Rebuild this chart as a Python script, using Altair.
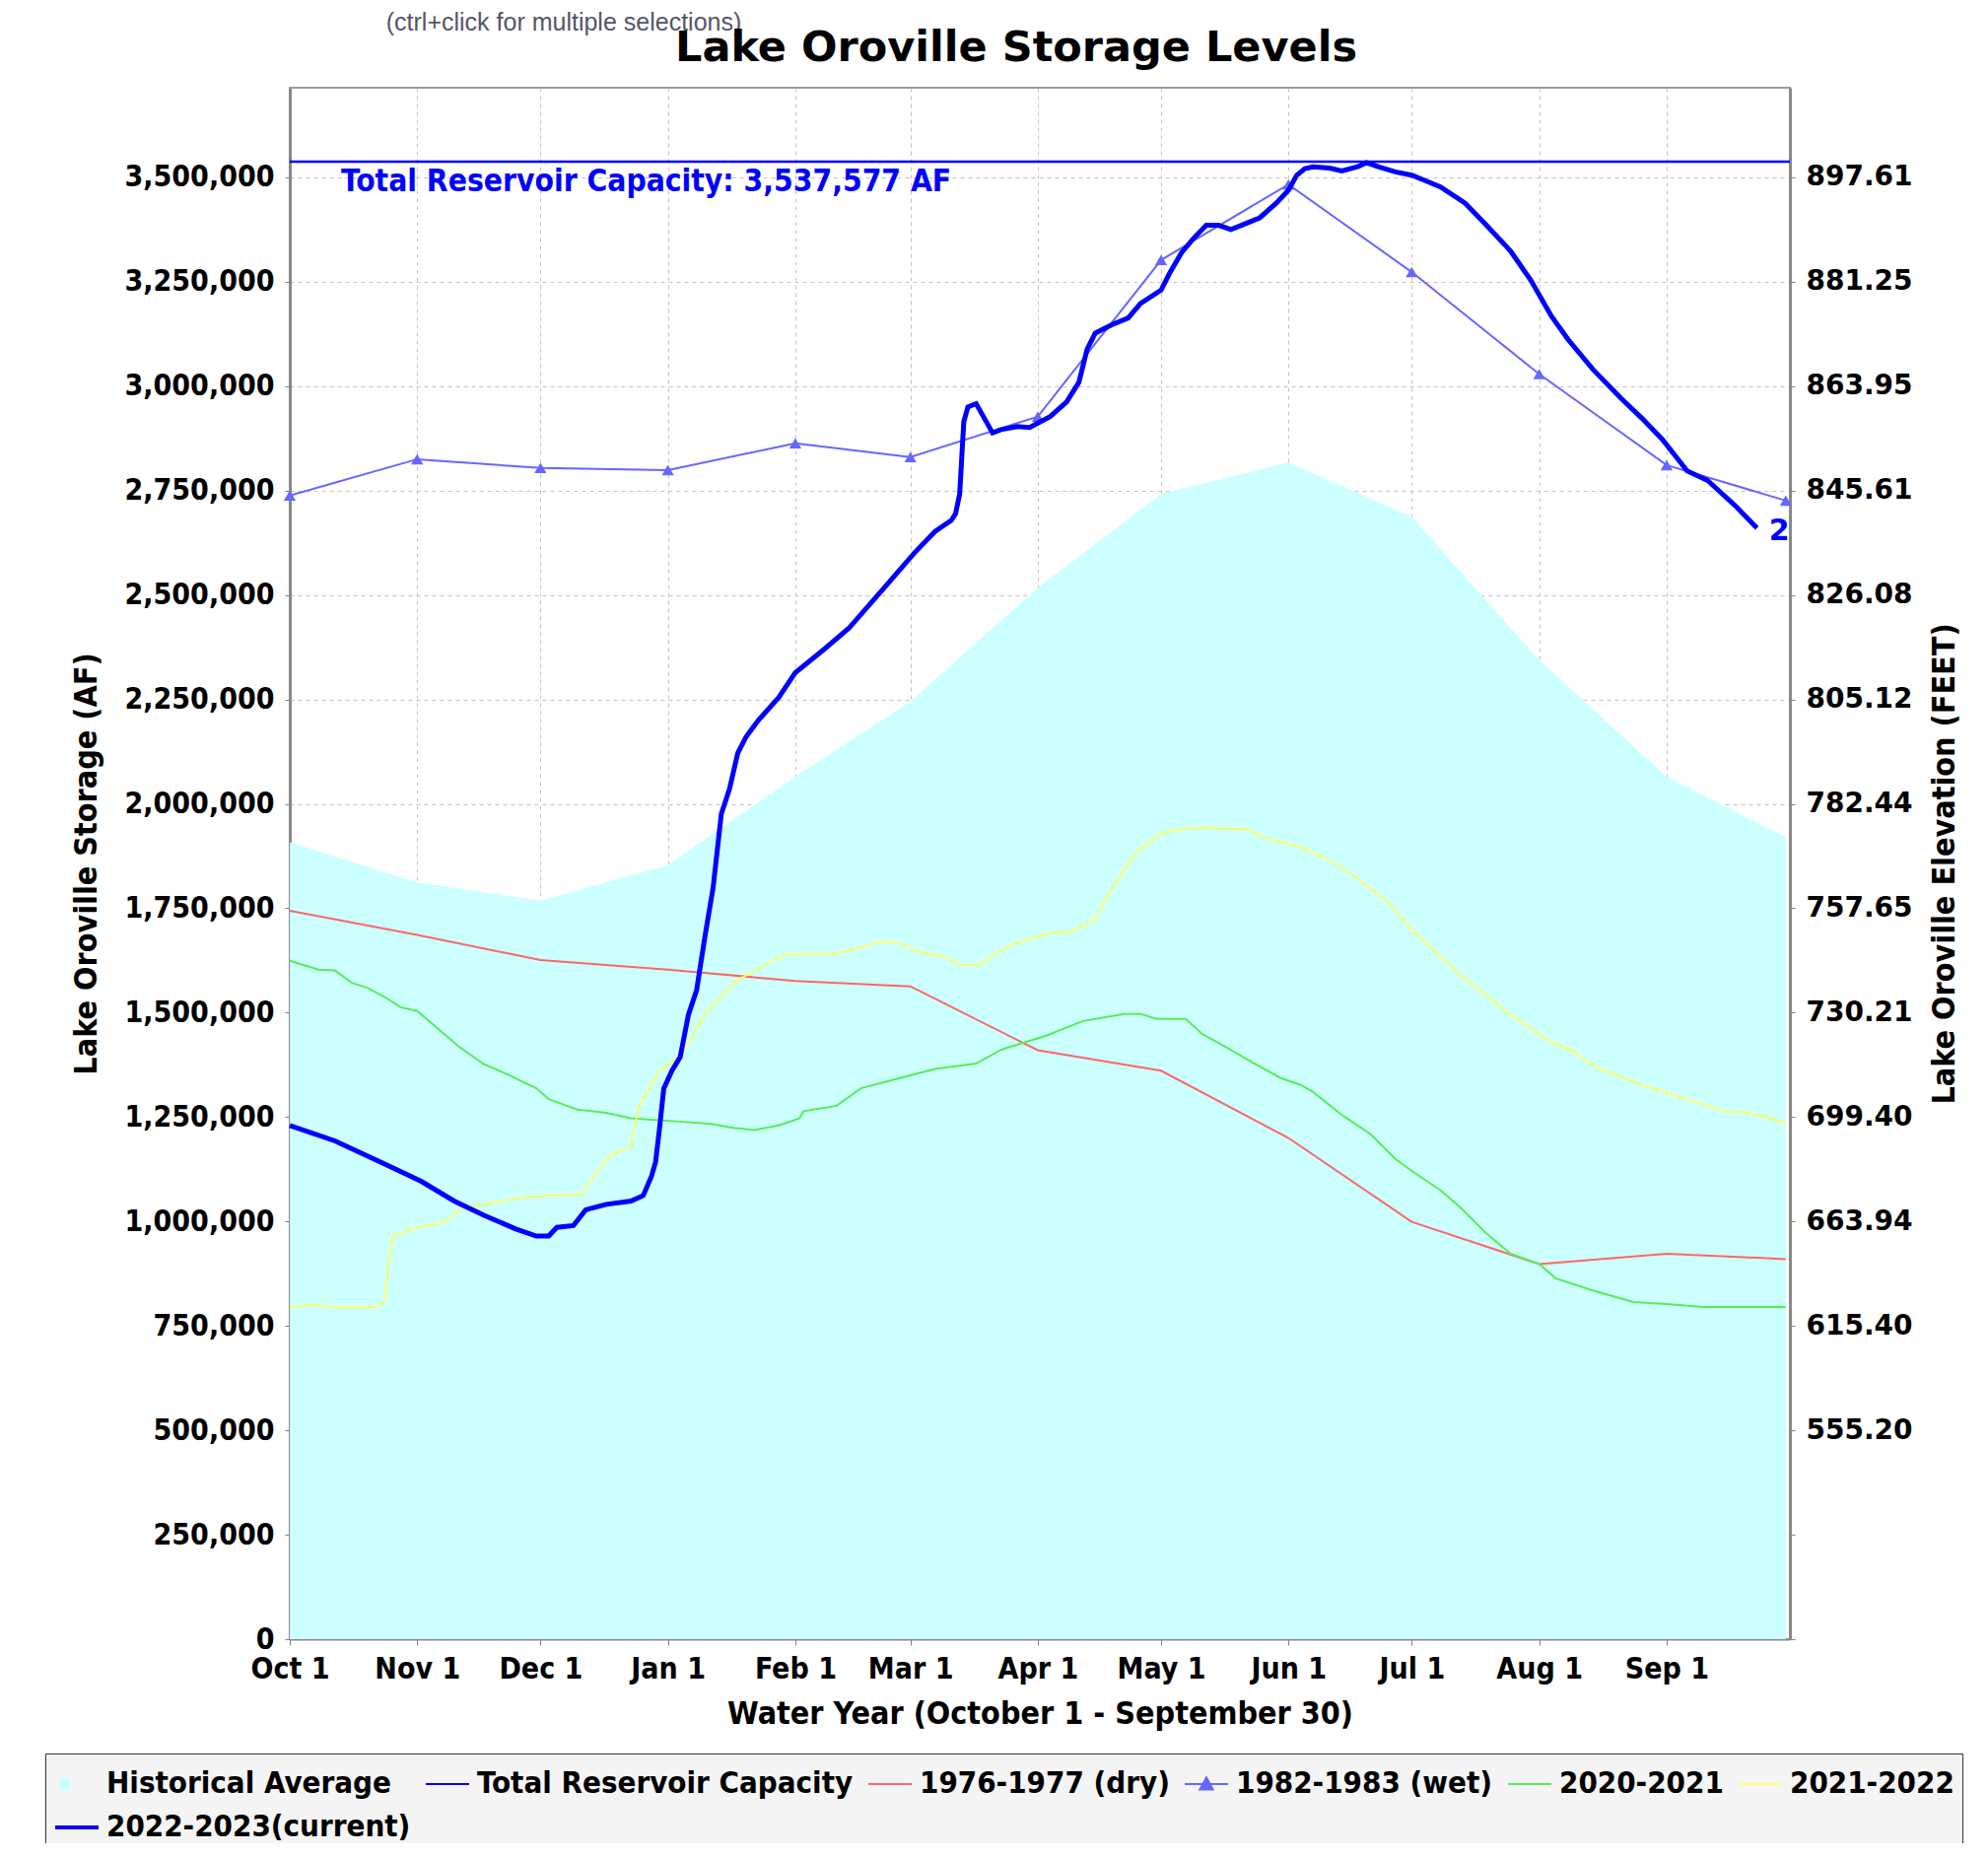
import altair as alt
import pandas as pd

START = pd.Timestamp("2022-10-01")

# ---------------- data (storage in acre-feet, x = day of water year) ----------------
month_days = [0, 31, 61, 92, 123, 151, 182, 212, 243, 273, 304, 335, 364]

hist_values = [1908000, 1812000, 1768000, 1853000, 2065000, 2245000, 2517000,
               2742000, 2817000, 2687000, 2344000, 2065000, 1921000]
dry_values = [1744000, 1686000, 1626000, 1603000, 1576000, 1563000, 1410000,
              1361000, 1200000, 999000, 898000, 923000, 910000]
wet_values = [2738000, 2825000, 2804000, 2799000, 2863000, 2830000, 2927000,
              3302000, 3483000, 3273000, 3029000, 2811000, 2726000]

capacity = 3537577

wy2021_days = [0, 7, 11, 15, 19, 23, 27, 31, 36, 41, 47, 53, 60, 63, 70, 77, 83, 92,
               102, 108, 113, 119, 124, 125, 133, 139, 147, 157, 167, 173, 184, 193,
               203, 207, 211, 218, 222, 228, 234, 241, 246, 249, 256, 263, 269, 273,
               280, 285, 291, 297, 304, 308, 317, 327, 334, 344, 364]
wy2021_values = [1624000, 1603000, 1601000, 1572000, 1559000, 1538000, 1513000,
                 1504000, 1462000, 1420000, 1378000, 1352000, 1319000, 1293000,
                 1268000, 1260000, 1247000, 1241000, 1234000, 1224000, 1219000,
                 1230000, 1247000, 1264000, 1277000, 1319000, 1340000, 1365000,
                 1378000, 1411000, 1445000, 1480000, 1497000, 1497000, 1485000,
                 1485000, 1449000, 1416000, 1382000, 1344000, 1327000, 1310000,
                 1255000, 1209000, 1150000, 1121000, 1075000, 1032000, 973000,
                 923000, 898000, 864000, 835000, 807000, 803000, 795000, 795000]

wy2022_days = [0, 6, 10, 21, 23, 24, 25, 31, 38, 41, 49, 57, 63, 71, 74, 78, 83, 85,
               90, 95, 101, 108, 116, 121, 133, 144, 149, 153, 159, 163, 168, 171,
               177, 185, 190, 196, 198, 202, 205, 212, 219, 225, 233, 238, 246, 253,
               260, 268, 273, 285, 297, 305, 313, 317, 329, 337, 349, 355, 364]
wy2022_values = [795000, 801000, 795000, 795000, 809000, 898000, 965000, 986000,
                 1000000, 1028000, 1045000, 1058000, 1062000, 1066000, 1108000,
                 1159000, 1180000, 1277000, 1361000, 1395000, 1496000, 1572000,
                 1618000, 1641000, 1641000, 1671000, 1664000, 1646000, 1635000,
                 1615000, 1615000, 1639000, 1668000, 1691000, 1694000, 1723000,
                 1765000, 1824000, 1875000, 1930000, 1942000, 1942000, 1938000,
                 1917000, 1896000, 1866000, 1820000, 1757000, 1698000, 1588000,
                 1496000, 1441000, 1403000, 1373000, 1327000, 1302000, 1264000,
                 1261000, 1236000]

current_days = [0, 11, 23, 32, 40, 47, 55, 60, 63, 65, 69, 72, 77, 83, 86, 88, 89,
                90, 91, 93, 95, 97, 99, 101, 103, 105, 107, 109, 111, 114, 119, 123,
                130, 136, 144, 152, 157, 161, 162, 163, 164, 165, 167, 169, 171, 173,
                177, 180, 185, 189, 192, 194, 196, 200, 204, 207, 212, 214, 217, 220,
                223, 226, 229, 233, 236, 240, 243, 245, 247, 249, 253, 256, 260, 262,
                265, 269, 273, 277, 280, 286, 291, 297, 302, 307, 311, 317, 324, 329,
                334, 340, 345, 352, 357]
current_values = [1230000, 1193000, 1138000, 1096000, 1049000, 1016000, 982000,
                  965000, 965000, 986000, 990000, 1028000, 1041000, 1049000, 1062000,
                  1108000, 1142000, 1226000, 1318000, 1361000, 1394000, 1495000,
                  1554000, 1681000, 1799000, 1976000, 2036000, 2121000, 2160000,
                  2200000, 2255000, 2314000, 2370000, 2420000, 2510000, 2601000,
                  2652000, 2679000, 2695000, 2742000, 2915000, 2950000, 2958000,
                  2923000, 2888000, 2896000, 2903000, 2901000, 2927000, 2962000,
                  3009000, 3088000, 3127000, 3147000, 3163000, 3198000, 3230000,
                  3269000, 3320000, 3355000, 3385000, 3385000, 3375000, 3391000,
                  3403000, 3438000, 3469000, 3505000, 3521000, 3525000, 3522000,
                  3515000, 3526000, 3535000, 3525000, 3513000, 3505000, 3489000,
                  3477000, 3438000, 3387000, 3324000, 3253000, 3167000, 3112000,
                  3041000, 2970000, 2923000, 2872000, 2797000, 2774000, 2711000,
                  2660000]

series_names = ["Historical Average", "Total Reservoir Capacity", "1976-1977 (dry)",
                "1982-1983 (wet)", "2020-2021", "2021-2022", "2022-2023(current)"]
series_colors = ["#ccffff", "#0000ff", "#ff6666", "#6666ff", "#55ee55", "#ffff66", "#0000ff"]
legend_shapes = ["M-0.75,-0.25L-0.35,-0.25L-0.35,0.25L-0.75,0.25Z",
                 "M-1,0L1,0", "M-1,0L1,0",
                 "M-1,0L1,0M-0.3,0.25L0,-0.3L0.3,0.25Z",
                 "M-1,0L1,0", "M-1,0L1,0", "M-1,0L1,0"]
legend_widths = [2, 2, 2, 2, 2, 2, 4]

storage_ticks = list(range(0, 3500001, 250000))
elev_ticks = [500000, 750000, 1000000, 1250000, 1500000, 1750000, 2000000,
              2250000, 2500000, 2750000, 3000000, 3250000, 3500000]
elev_labels = ["555.20", "615.40", "663.94", "699.40", "730.21", "757.65", "782.44",
               "805.12", "826.08", "845.61", "863.95", "881.25", "897.61"]

month_starts = [(2022, 10), (2022, 11), (2022, 12), (2023, 1), (2023, 2), (2023, 3),
                (2023, 4), (2023, 5), (2023, 6), (2023, 7), (2023, 8), (2023, 9)]

chart_title = "Lake Oroville Storage Levels"
note_text = "(ctrl+click for multiple selections)"


def frame(days, values, name):
    return pd.DataFrame({"date": START + pd.to_timedelta(days, unit="D"),
                         "value": values, "series": name})


hist_df = frame(month_days, hist_values, series_names[0])
dry_df = frame(month_days, dry_values, series_names[2])
wet_df = frame(month_days, wet_values, series_names[3])
w21_df = frame(wy2021_days, wy2021_values, series_names[4])
w22_df = frame(wy2022_days, wy2022_values, series_names[5])
cur_df = frame(current_days, current_values, series_names[6])
cap_df = pd.DataFrame({"date": [START], "value": [capacity],
                       "label": [f"Total Reservoir Capacity: {capacity:,} AF"]})
end_df = cur_df.tail(1).assign(label=lambda d: d["value"].map(lambda v: f"{v:,}"))
text_df = pd.DataFrame({"note": [note_text], "title": [chart_title]})
legend_df = pd.DataFrame({"series": series_names})

# ---------------- styling ----------------
COND = "DejaVu Sans Condensed, DejaVu Sans"
WIDE = "DejaVu Sans"
W, H = 1522, 1574

xscale = alt.Scale(domain=[alt.DateTime(year=2022, month=10, date=1),
                           alt.DateTime(year=2023, month=10, date=1)], nice=False)
yscale = alt.Scale(domain=[0, 3714456], nice=False, zero=False)

x_axis = alt.Axis(values=[alt.DateTime(year=y, month=m, date=1) for y, m in month_starts],
                  format="%b %-d", title="Water Year (October 1 - September 30)",
                  labelAngle=0, labelFlush=False, labelOverlap=False, tickSize=6,
                  labelPadding=9, titleY=85, titleBaseline="alphabetic",
                  grid=True, domainWidth=2)
y_axis_left = alt.Axis(values=storage_ticks, format=",.0f",
                       title="Lake Oroville Storage (AF)", titleAngle=270,
                       titleX=-207, titleY=H / 2, titleAlign="center",
                       titleBaseline="middle", tickSize=5, labelPadding=11,
                       grid=True, domainWidth=3, labelOverlap=False)
elev_expr = "".join(f"datum.value == {v} ? '{lab}' : " for v, lab in zip(elev_ticks, elev_labels)) + "''"
y_axis_right = alt.Axis(orient="right", values=storage_ticks, labelExpr=elev_expr,
                        title="Lake Oroville Elevation (FEET)", titleAngle=270,
                        titleX=156, titleY=H / 2, titleAlign="center",
                        titleBaseline="middle", tickSize=5, labelPadding=11,
                        grid=False, domainWidth=3, labelFont=WIDE, labelFontSize=28,
                        labelOverlap=False)

X = alt.X("date:T", scale=xscale)
Y = alt.Y("value:Q", scale=yscale, axis=None)

area = alt.Chart(hist_df).mark_area(color="#ccffff", opacity=1).encode(
    x=alt.X("date:T", scale=xscale, axis=x_axis),
    y=alt.Y("value:Q", scale=yscale, axis=y_axis_left),
)
cap_rule = alt.Chart(cap_df).mark_rule(color="#0000ff", strokeWidth=2.5).encode(
    y=alt.Y("value:Q", scale=yscale, axis=y_axis_right),
)
dry = alt.Chart(dry_df).mark_line(color="#ff6666", strokeWidth=2).encode(x=X, y=Y)
wet = alt.Chart(wet_df).mark_line(color="#6666ff", strokeWidth=2).encode(x=X, y=Y)
wet_pts = alt.Chart(wet_df).mark_point(shape="triangle-up", filled=True, size=150,
                                       opacity=1, color="#6666ff").encode(x=X, y=Y)
w21 = alt.Chart(w21_df).mark_line(color="#55ee55", strokeWidth=2).encode(x=X, y=Y)
w22 = alt.Chart(w22_df).mark_line(color="#ffff66", strokeWidth=2).encode(x=X, y=Y)
cur = alt.Chart(cur_df).mark_line(color="#0000ff", strokeWidth=5).encode(x=X, y=Y)
cap_text = alt.Chart(cap_df).mark_text(align="left", baseline="alphabetic", dx=52, dy=30,
                                       font=COND, fontSize=31.5, fontWeight="bold",
                                       color="#0000ff").encode(x=X, y=Y, text="label:N")
end_text = alt.Chart(end_df).mark_text(align="left", baseline="alphabetic", dx=12, dy=12,
                                       font=WIDE, fontSize=30, fontWeight="bold",
                                       color="#0000ff", clip=True).encode(x=X, y=Y, text="label:N")
note = alt.Chart(text_df).mark_text(align="center", baseline="alphabetic",
                                    font="Liberation Sans", fontSize=25,
                                    color="#555566").encode(
    x=alt.value(278), y=alt.value(-58), text="note:N")
title = alt.Chart(text_df).mark_text(align="center", baseline="alphabetic",
                                     font=WIDE, fontSize=43, fontWeight="bold",
                                     color="#000000").encode(
    x=alt.value(737), y=alt.value(-27), text="title:N")

LEG = alt.Legend(title=None, orient="none", legendX=-248, legendY=1690,
                 direction="horizontal", columns=6, gridAlign="none",
                 columnPadding=11, rowPadding=5, padding=8,
                 fillColor="#f4f4f4", strokeColor="#333333",
                 labelFont=COND, labelFontSize=31, labelFontWeight="bold",
                 labelColor="#000000", labelLimit=1000, labelOffset=6,
                 symbolSize=1936, symbolFillColor="#ffffff")

legend_layer = alt.Chart(legend_df).mark_point(filled=True, opacity=1).encode(
    fill=alt.Fill("series:N", scale=alt.Scale(domain=series_names, range=series_colors), legend=LEG),
    stroke=alt.Stroke("series:N", scale=alt.Scale(domain=series_names, range=series_colors), legend=LEG),
    shape=alt.Shape("series:N", scale=alt.Scale(domain=series_names, range=legend_shapes), legend=LEG),
    strokeWidth=alt.StrokeWidth("series:N", scale=alt.Scale(type="ordinal", domain=series_names,
                                                             range=legend_widths), legend=LEG),
).transform_filter("false")

chart = alt.layer(
    area, cap_rule, dry, w21, w22, wet, wet_pts, cur, cap_text, end_text, note, title,
    legend_layer
).resolve_axis(y="independent").properties(
    width=W, height=H,
    padding={"left": 286, "top": 81, "right": 192, "bottom": 207},
    autosize=alt.AutoSizeParams(type="none"),
).configure(background="#ffffff").configure_view(
    fill="#f4f4f4", stroke="#9a9a9a", strokeWidth=2
).configure_legend(
    gridAlign="none"
).configure_axis(
    labelFont=COND, labelFontSize=30, labelFontWeight="bold", labelColor="#000000",
    titleFont=COND, titleFontSize=32, titleFontWeight="bold", titleColor="#000000",
    tickColor="#808080", domainColor="#888888", gridColor="#c4c4c4", gridDash=[4, 4],
    gridWidth=1,
)

chart.save("out.html", embed_options={"renderer": "svg", "actions": False})
